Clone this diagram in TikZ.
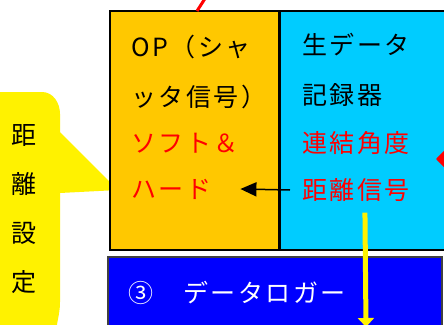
\documentclass[tikz,border=0pt]{standalone}
\usepackage{fontspec}
\newfontfamily\jp[LetterSpace=10]{Noto Sans CJK JP}
\usepackage{tikz}
\usetikzlibrary{positioning,arrows.meta}
\definecolor{opcol}{RGB}{255,200,0}
\definecolor{rawcol}{RGB}{0,204,255}
\definecolor{logcol}{RGB}{0,0,255}

\begin{document}
\begin{tikzpicture}[x=1pt,y=-1pt]
\tikzstyle{txt}=[anchor=west, inner sep=0pt, font=\jp\fontsize{25}{25}\selectfont, text height=22pt, text depth=3pt]
\useasboundingbox (0,0) rectangle (444,324);
\clip (0,0) rectangle (444,324);

% callout
\fill[yellow] (-20,92) -- (42,92) to[out=0,in=90] (60,114) -- (60,132) -- (118,190)
  -- (60,193) -- (60,302) to[out=-90,in=90] (56,336) -- (-20,336) -- cycle;
\node[inner sep=0pt, align=center, font=\jp\fontsize{25}{49}\selectfont] (dset) at (24,209) {距\\離\\設\\定};

% boxes
\fill[opcol] (110,11) rectangle (279,250);
\fill[rawcol] (279,11) rectangle (460,250);
\draw[line width=2.5pt] (110,11) rectangle (460,250);
\draw[line width=3pt] (279,11) -- (279,250);
\filldraw[fill=logcol, draw=black!75, line width=1.5pt] (108,257) rectangle (442,340);

\node[txt] (op) at (131,47) {OP（シャ};
\node[txt] (shut) at (131,97) {ッタ信号）};
\node[txt, red] (soft) at (131,143) {ソフト＆};
\node[txt, red] (hard) at (131,189) {ハード};
\node[txt] (raw) at (302,45) {生データ};
\node[txt] (rec) at (302,95) {記録器};
\node[txt, red] (ang) at (302,143) {連結角度};
\node[txt, red] (dist) at (302,190) {距離信号};
\node[txt, white] (logger) at (128,293) {③　データロガー};

\coordinate (optop) at (197,11);
\coordinate (angsrc) at (470,159);
\coordinate (angtip) at (436,159);
\coordinate (logbot) at (366,327);

\draw[red, line width=3pt] (optop) -- ++(9,-14);
\draw[red, line width=2pt, -{Triangle[length=9pt,width=18pt]}] (angsrc) -- (angtip);
\draw[line width=1.5pt, -{Triangle[length=16pt,width=14pt]}] ([xshift=-12pt]dist.west) -- ([xshift=29pt]hard.east);
\draw[yellow, line width=5pt, -{Triangle[length=9pt,width=16pt]}] ([xshift=9pt,yshift=-10pt]dist.south) -- (logbot);
\end{tikzpicture}
\end{document}
